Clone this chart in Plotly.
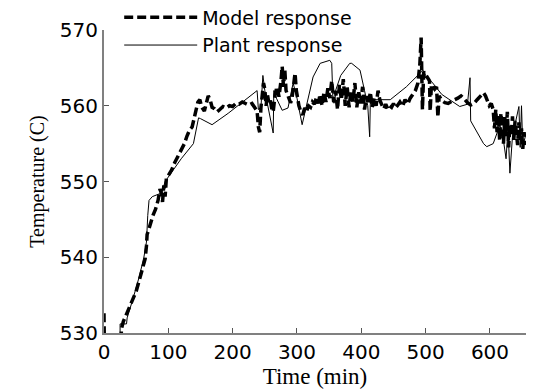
import plotly.graph_objects as go

# Model response (time in min, temperature in C)
model_t = [0, 1, 26, 27, 30, 35, 40, 45, 50, 55, 60, 64, 66, 67, 69, 72, 76, 80, 84, 87,
           89, 91, 93, 95, 97, 100, 105, 110, 115, 120, 125, 129, 133, 137, 141, 144, 146, 149, 152, 156,
           159, 162, 165, 168, 172, 176, 180, 185, 190, 195, 200, 205, 210, 215, 220, 225, 230, 235, 238, 240,
           242, 244, 246, 248, 250, 252, 254, 256, 258, 261, 263, 266, 269, 272, 275, 277, 279, 281, 283, 285,
           288, 290, 292, 295, 297, 299, 301, 303, 306, 309, 312, 315, 318, 321, 324, 327, 330, 333, 336, 339,
           342, 345, 348, 351, 354, 357, 360, 363, 366, 369, 372, 375, 378, 381, 384, 387, 390, 393, 396, 399,
           402, 405, 408, 411, 414, 417, 420, 423, 426, 429, 432, 435, 438, 441, 444, 447, 450, 453, 456, 460,
           464, 468, 472, 476, 480, 484, 488, 491, 493, 494, 495, 497, 502, 506, 507, 509, 514, 517, 519, 521,
           525, 530, 535, 540, 545, 550, 555, 560, 565, 570, 575, 580, 585, 590, 593, 596, 599, 602, 605, 607,
           609, 611, 613, 615, 617, 619, 621, 623, 625, 627, 629, 631, 633, 635, 637, 639, 641, 643, 645, 647,
           649, 651, 653, 655]
model_y = [532.6, 525, 525, 530.5, 531.5, 532.5, 533.5, 534.5, 535.5, 537, 538.5, 539.8, 541.5, 543, 543.5, 544.5, 545.5, 546.3, 547.5, 549,
           548.5, 547.3, 549.5, 548, 550.5, 550.8, 551.5, 552.5, 553.3, 554, 555, 556, 556.8, 557.2, 558.5, 559.5, 560.5, 560.8, 559.8, 559.3,
           560.2, 561.3, 560.8, 559.8, 559.6, 559.2, 559.5, 559.9, 559.7, 560, 559.9, 560.3, 560.2, 560.5, 560.3, 560.1, 560.3, 559.6, 559.3, 557.2,
           556.5, 559.8, 561.5, 563, 562.2, 560, 561.5, 560.5, 561, 559.5, 559.2, 561.5, 562.5, 561.2, 563.2, 565.2, 562.5, 564.8, 562, 561.5,
           561, 560.4, 560.8, 562.5, 564.3, 562, 561, 560, 559.2, 558.8, 559.7, 559.3, 560, 559.8, 560.5, 560.2, 561, 560.3, 561.5, 560,
           561.8, 560.5, 562.3, 561, 563.3, 560.5, 562, 559.5, 562.8, 560.8, 563.5, 560, 562.5, 559.8, 562, 560.5, 563, 559.8, 561.8, 560.3,
           562.5, 559.5, 561.3, 560.2, 561.8, 559.8, 561, 560, 562, 560.7, 560.1, 559.6, 560.2, 559.6, 560, 559.8, 560.3, 559.7, 560, 560.5,
           559.9, 560.8, 560.2, 561, 561.5, 562, 563, 565.5, 569, 566, 559.5, 564.5, 563.8, 563.3, 559.3, 562.8, 562.2, 562.5, 558.5, 561.3,
           560.7, 560.4, 560.3, 560.6, 560.8, 561, 561.3, 560.9, 560.4, 560.1, 560.3, 560.8, 561.2, 561.7, 561.3, 560.5, 560, 560.3, 559.5, 557,
           559.5, 556.5, 558.8, 555.5, 559, 557.5, 555, 558.5, 556, 559.2, 554.5, 557.5, 556, 558.6, 555.5, 558, 556.5, 554.8, 557.8, 555.5,
           557, 554.3, 556.5, 554.8]

# Plant response
plant_t = [25, 25, 35, 36, 45, 55, 62, 66, 68, 70, 75, 90, 95, 103, 120, 139, 143, 147, 150, 168,
           193, 238, 240, 244, 247, 250, 263, 264, 268, 277, 286, 294, 300, 308, 312, 325, 336, 351, 354, 356,
           359, 360, 368, 382, 385, 398, 405, 410, 413, 414, 421, 445, 470, 496, 500, 511, 525, 538, 553, 565,
           569, 570, 580, 590, 595, 605, 611, 615, 620, 625, 628, 631, 635, 640, 645, 647, 649, 651, 655]
plant_y = [525, 531.2, 531.2, 532, 534.5, 537.5, 540, 542, 545.5, 547.5, 548, 548.5, 550, 551, 553, 555, 556.5, 558.4, 558.3, 557.5,
           559, 562, 559.5, 559.8, 564, 562, 556.4, 562, 561, 559.4, 559.7, 563, 561, 557.5, 559, 563.8, 565.6, 566, 565.6, 560.4,
           560.4, 562, 564, 565.6, 565.6, 564.7, 562, 560, 555.9, 560.5, 560.8, 560.8, 562.5, 564.7, 564, 563, 561.5, 560.8, 559.9, 560.2,
           563.7, 558, 556.5, 555, 554.6, 555, 556.4, 557.5, 556, 553, 557, 551.1, 556, 558, 559.9, 554.5, 560, 554.5, 556]

x_ticks = [0, 100, 200, 300, 400, 500, 600]
y_ticks = [530, 540, 550, 560, 570]

fig = go.Figure()
fig.add_trace(go.Scatter(x=model_t, y=model_y, mode="lines", name="Model response",
                         line=dict(color="black", width=3.5, dash="9px,4px")))
fig.add_trace(go.Scatter(x=plant_t, y=plant_y, mode="lines", name="Plant response",
                         line=dict(color="black", width=1)))

serif = "Liberation Serif, Times New Roman, serif"
fig.update_layout(
    width=534, height=390,
    margin=dict(l=96, r=16, t=22, b=65, autoexpand=False),
    paper_bgcolor="white", plot_bgcolor="white",
    font=dict(family="DejaVu Sans, Liberation Sans, sans-serif", size=20, color="black"),
    showlegend=True,
    legend=dict(x=0.036, y=1.104, xanchor="left", yanchor="top", bgcolor="rgba(0,0,0,0)",
                font=dict(size=19), itemwidth=73, tracegroupgap=0),
    xaxis=dict(range=[0, 656], tickvals=x_ticks, ticks="inside", ticklen=5, tickcolor="#555",
               showline=True, linecolor="#808080", linewidth=2, showgrid=False, zeroline=False,
               title=dict(text="Time (min)", font=dict(family=serif, size=23), standoff=4)),
    yaxis=dict(range=[530, 570], tickvals=y_ticks, ticks="inside", ticklen=5, tickcolor="#555",
               showline=True, linecolor="#808080", linewidth=2, showgrid=False, zeroline=False,
               title=dict(text="Temperature (C)", font=dict(family=serif, size=20), standoff=10)),
)

fig.write_html("out.html")
